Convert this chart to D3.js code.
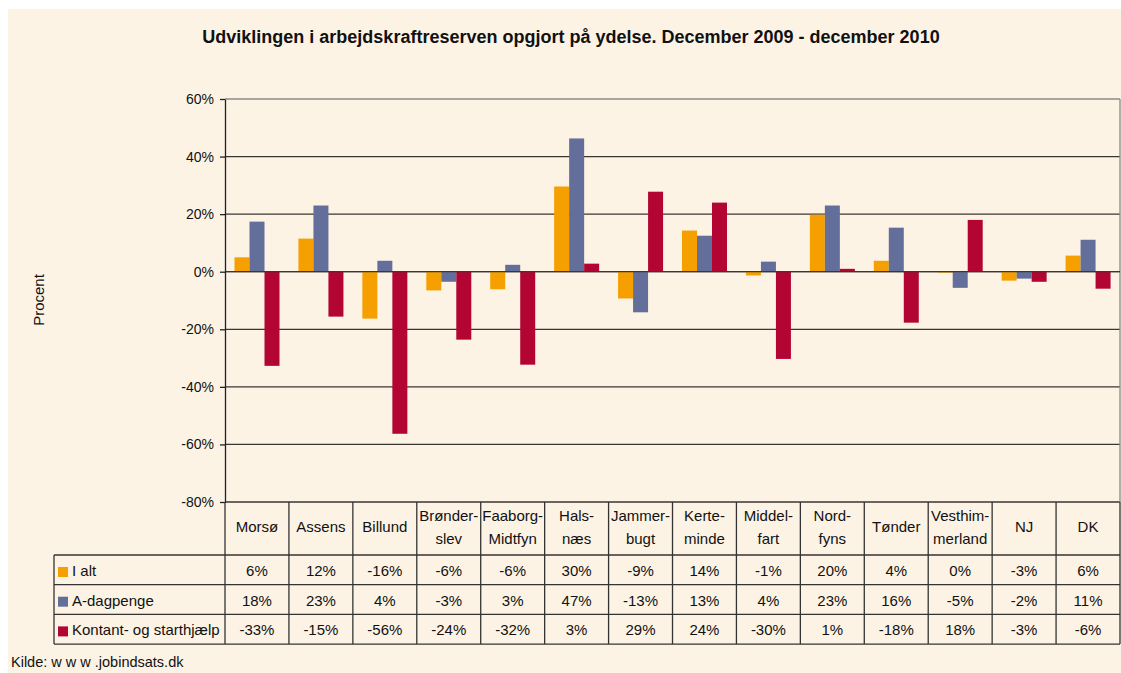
<!DOCTYPE html>
<html lang="da">
<head>
<meta charset="UTF-8">
<title>Arbejdskraftreserven</title>
<script src="https://d3js.org/d3.v7.min.js"></script>
<style>
    body { margin: 0; padding: 0; background: #fff; }
    svg { display: block; font-family: "Liberation Sans", Arial, sans-serif; }
</style>
</head>
<body>
<svg id="chart" width="1121" height="673"></svg>
<script>
// categories (label lines as shown in the table header)
const categories = ["Morsø", "Assens", "Billund", "Brønderslev", "Faaborg-Midtfyn", "Halsnæs",
    "Jammerbugt", "Kerteminde", "Middelfart", "Nordfyns", "Tønder", "Vesthimmerland", "NJ", "DK"];
const categoryLines = [["Morsø"], ["Assens"], ["Billund"], ["Brønder-", "slev"], ["Faaborg-", "Midtfyn"],
    ["Hals-", "næs"], ["Jammer-", "bugt"], ["Kerte-", "minde"], ["Middel-", "fart"], ["Nord-", "fyns"],
    ["Tønder"], ["Vesthim-", "merland"], ["NJ"], ["DK"]];

const seriesNames = ["I alt", "A-dagpenge", "Kontant- og starthjælp"];
const seriesColors = ["#F5A000", "#646E9A", "#B30534"];

// bar heights (percent)
const iAlt = [5, 11.5, -16.3, -6.5, -6.1, 29.6, -9.3, 14.3, -1.3, 19.8, 3.8, -0.3, -3.1, 5.6];
const aDagpenge = [17.4, 23, 3.8, -3.5, 2.4, 46.3, -14.1, 12.5, 3.5, 23, 15.3, -5.6, -2.4, 11.1];
const kontant = [-32.7, -15.6, -56.3, -23.6, -32.3, 2.8, 27.8, 24, -30.3, 1, -17.7, 18, -3.5, -5.9];

// table texts
const iAltLabels = ["6%", "12%", "-16%", "-6%", "-6%", "30%", "-9%", "14%", "-1%", "20%", "4%", "0%", "-3%", "6%"];
const aDagpengeLabels = ["18%", "23%", "4%", "-3%", "3%", "47%", "-13%", "13%", "4%", "23%", "16%", "-5%", "-2%", "11%"];
const kontantLabels = ["-33%", "-15%", "-56%", "-24%", "-32%", "3%", "29%", "24%", "-30%", "1%", "-18%", "18%", "-3%", "-6%"];

const yTicks = [-80, -60, -40, -20, 0, 20, 40, 60];

const series = [iAlt, aDagpenge, kontant];
const labelRows = [iAltLabels, aDagpengeLabels, kontantLabels];

const svg = d3.select("#chart");

// cream panel
svg.append("rect").attr("x", 8).attr("y", 9).attr("width", 1113).attr("height", 664).attr("fill", "#FDF3E5");

const plotLeft = 225, plotRight = 1120, plotTop = 99, plotBottom = 502;

const x = d3.scaleBand().domain(categories).range([plotLeft, plotRight]);
const xInner = d3.scaleBand().domain(d3.range(3)).range([9.5, 54.5]);
const y = d3.scaleLinear().domain([-80, 60]).range([plotBottom, plotTop]);

// title
svg.append("text")
    .attr("x", 571).attr("y", 43)
    .attr("text-anchor", "middle")
    .attr("font-size", 18).attr("font-weight", "bold")
    .attr("fill", "#111")
    .text("Udviklingen i arbejdskraftreserven opgjort på ydelse. December 2009 - december 2010");

// gridlines
svg.append("g").selectAll("line")
    .data(yTicks)
    .join("line")
    .attr("x1", plotLeft).attr("x2", plotRight)
    .attr("y1", d => y(d)).attr("y2", d => y(d))
    .attr("stroke", d => d === 60 ? "#8c8a86" : "#3a3631")
    .attr("stroke-width", 1.3);

// right border of plot
svg.append("line").attr("x1", plotRight).attr("x2", plotRight).attr("y1", plotTop).attr("y2", plotBottom)
    .attr("stroke", "#8c8a86").attr("stroke-width", 1.3);

// bars
const barData = [];
categories.forEach((c, i) => series.forEach((s, k) => barData.push({ c, k, v: s[i] })));
svg.append("g").selectAll("rect")
    .data(barData)
    .join("rect")
    .attr("x", d => x(d.c) + xInner(d.k))
    .attr("width", xInner.bandwidth())
    .attr("y", d => y(Math.max(0, d.v)))
    .attr("height", d => Math.abs(y(d.v) - y(0)))
    .attr("fill", d => seriesColors[d.k]);

// zero line above bars
svg.append("line").attr("x1", plotLeft).attr("x2", plotRight).attr("y1", y(0)).attr("y2", y(0))
    .attr("stroke", "#3a3631").attr("stroke-width", 1.3);

// y axis
const yAxis = svg.append("g")
    .attr("transform", `translate(${plotLeft},0)`)
    .call(d3.axisLeft(y).tickValues(yTicks).tickFormat(d => d + "%").tickSize(5).tickSizeOuter(0));
yAxis.select(".domain").attr("stroke", "#222").attr("stroke-width", 1.3);
yAxis.selectAll(".tick line").attr("stroke", "#222").attr("stroke-width", 1.3);
yAxis.selectAll(".tick text").attr("font-size", 14).attr("font-family", "Liberation Sans, Arial, sans-serif")
    .attr("fill", "#111").attr("x", -11);

// y label
svg.append("text")
    .attr("transform", "translate(44,300) rotate(-90)")
    .attr("text-anchor", "middle")
    .attr("font-size", 15).attr("fill", "#111")
    .text("Procent");

// data table
const tableLeft = 54, headerBottom = 555, rowH = 29.7;
const table = svg.append("g").attr("stroke", "#333").attr("stroke-width", 1.3);
// horizontal lines
[0, 1, 2, 3].forEach(r => {
    table.append("line").attr("x1", tableLeft).attr("x2", plotRight)
        .attr("y1", headerBottom + r * rowH).attr("y2", headerBottom + r * rowH);
});
// vertical lines
table.append("line").attr("x1", tableLeft).attr("x2", tableLeft)
    .attr("y1", headerBottom).attr("y2", headerBottom + 3 * rowH);
table.selectAll(".vline")
    .data(categories.concat(["end"]))
    .join("line")
    .attr("x1", (d, i) => i < categories.length ? x(d) : plotRight)
    .attr("x2", (d, i) => i < categories.length ? x(d) : plotRight)
    .attr("y1", plotBottom).attr("y2", headerBottom + 3 * rowH);

// category labels
const catText = svg.append("g").selectAll("text")
    .data(categories)
    .join("text")
    .attr("text-anchor", "middle")
    .attr("font-size", 15).attr("fill", "#111")
    .attr("x", d => x(d) + x.bandwidth() / 2)
    .attr("y", (d, i) => categoryLines[i].length === 1 ? 532 : 521);
catText.each(function(d, i) {
    const lines = categoryLines[i];
    d3.select(this).selectAll("tspan")
        .data(lines)
        .join("tspan")
        .attr("x", x(d) + x.bandwidth() / 2)
        .attr("dy", (l, j) => j === 0 ? 0 : 23)
        .text(l => l);
});

// row values
labelRows.forEach((row, r) => {
    svg.append("g").selectAll("text")
        .data(row)
        .join("text")
        .attr("text-anchor", "middle")
        .attr("font-size", 15).attr("fill", "#111")
        .attr("x", (d, i) => x(categories[i]) + x.bandwidth() / 2)
        .attr("y", headerBottom + r * rowH + 21)
        .text(d => d);
});

// legend keys in table
seriesNames.forEach((name, r) => {
    svg.append("rect")
        .attr("x", 58).attr("y", headerBottom + r * rowH + 12)
        .attr("width", 10).attr("height", 10)
        .attr("fill", seriesColors[r]);
    svg.append("text")
        .attr("x", 72).attr("y", headerBottom + r * rowH + 21)
        .attr("font-size", 15).attr("fill", "#111")
        .text(name);
});

// source
svg.append("text")
    .attr("x", 11).attr("y", 667)
    .attr("font-size", 14.5).attr("fill", "#111")
    .text("Kilde: w w w .jobindsats.dk");
</script>
</body>
</html>
